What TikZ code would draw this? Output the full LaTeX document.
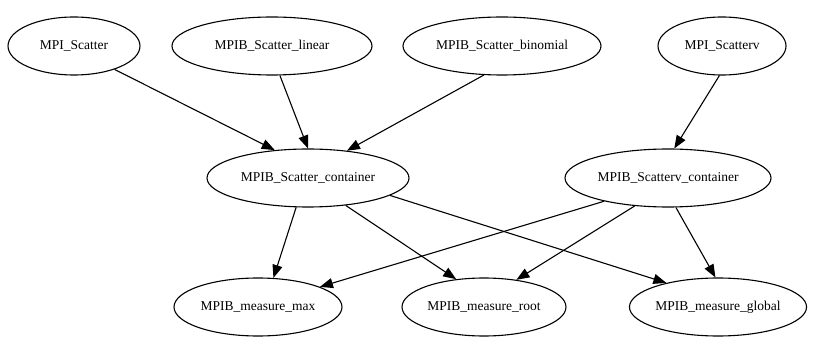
\documentclass[tikz,border=0pt]{standalone}
\usepackage{fontspec}
\setmainfont{Liberation Serif}
\usetikzlibrary{shapes.geometric,arrows.meta}

\begin{document}
\begin{tikzpicture}[x=1pt,y=-1pt,
		func/.style={draw,ellipse,line width=1.1pt,inner sep=0pt,minimum height=58pt,font=\rmfamily\fontsize{13.5}{16}\selectfont},
		call/.style={line width=1.1pt,-{Triangle[length=13pt,width=10pt]}}]
		\useasboundingbox (0,0) rectangle (834,344);

		%scatter front ends
			\node[func,minimum width=132pt] (scat) at (74,46) {MPI\_Scatter};
			\node[func,minimum width=200pt] (lin) at (272,46) {MPIB\_Scatter\_linear};
			\node[func,minimum width=198pt] (bin) at (502,46) {MPIB\_Scatter\_binomial};
			\node[func,minimum width=128pt] (scatv) at (722,46) {MPI\_Scatterv};

		%containers
			\node[func,minimum width=202pt] (cont) at (308,178) {MPIB\_Scatter\_container};
			\node[func,minimum width=206pt] (contv) at (668,178) {MPIB\_Scatterv\_container};

		%measurements
			\node[func,minimum width=168pt] (max) at (258,307) {MPIB\_measure\_max};
			\node[func,minimum width=164pt] (root) at (484,307) {MPIB\_measure\_root};
			\node[func,minimum width=176pt] (glob) at (718,307) {MPIB\_measure\_global};

		%calls
			\draw[call] (scat.-30) -- (cont.140);
			\draw[call] (lin.-75) -- (cont.90);
			\draw[call] (bin.-122) -- (cont.35);
			\draw[call] (scatv.-95) -- (contv.78);
			\draw[call] (cont.-112) -- (max.62);
			\draw[call] (cont.-36) -- (root.135);
			\draw[call] (cont.-12) -- (glob.155);
			\draw[call] (contv.-160) -- (max.18);
			\draw[call] (contv.-140) -- (root.40);
			\draw[call] (contv.-75) -- (glob.95);
		\end{tikzpicture}
\end{document}
